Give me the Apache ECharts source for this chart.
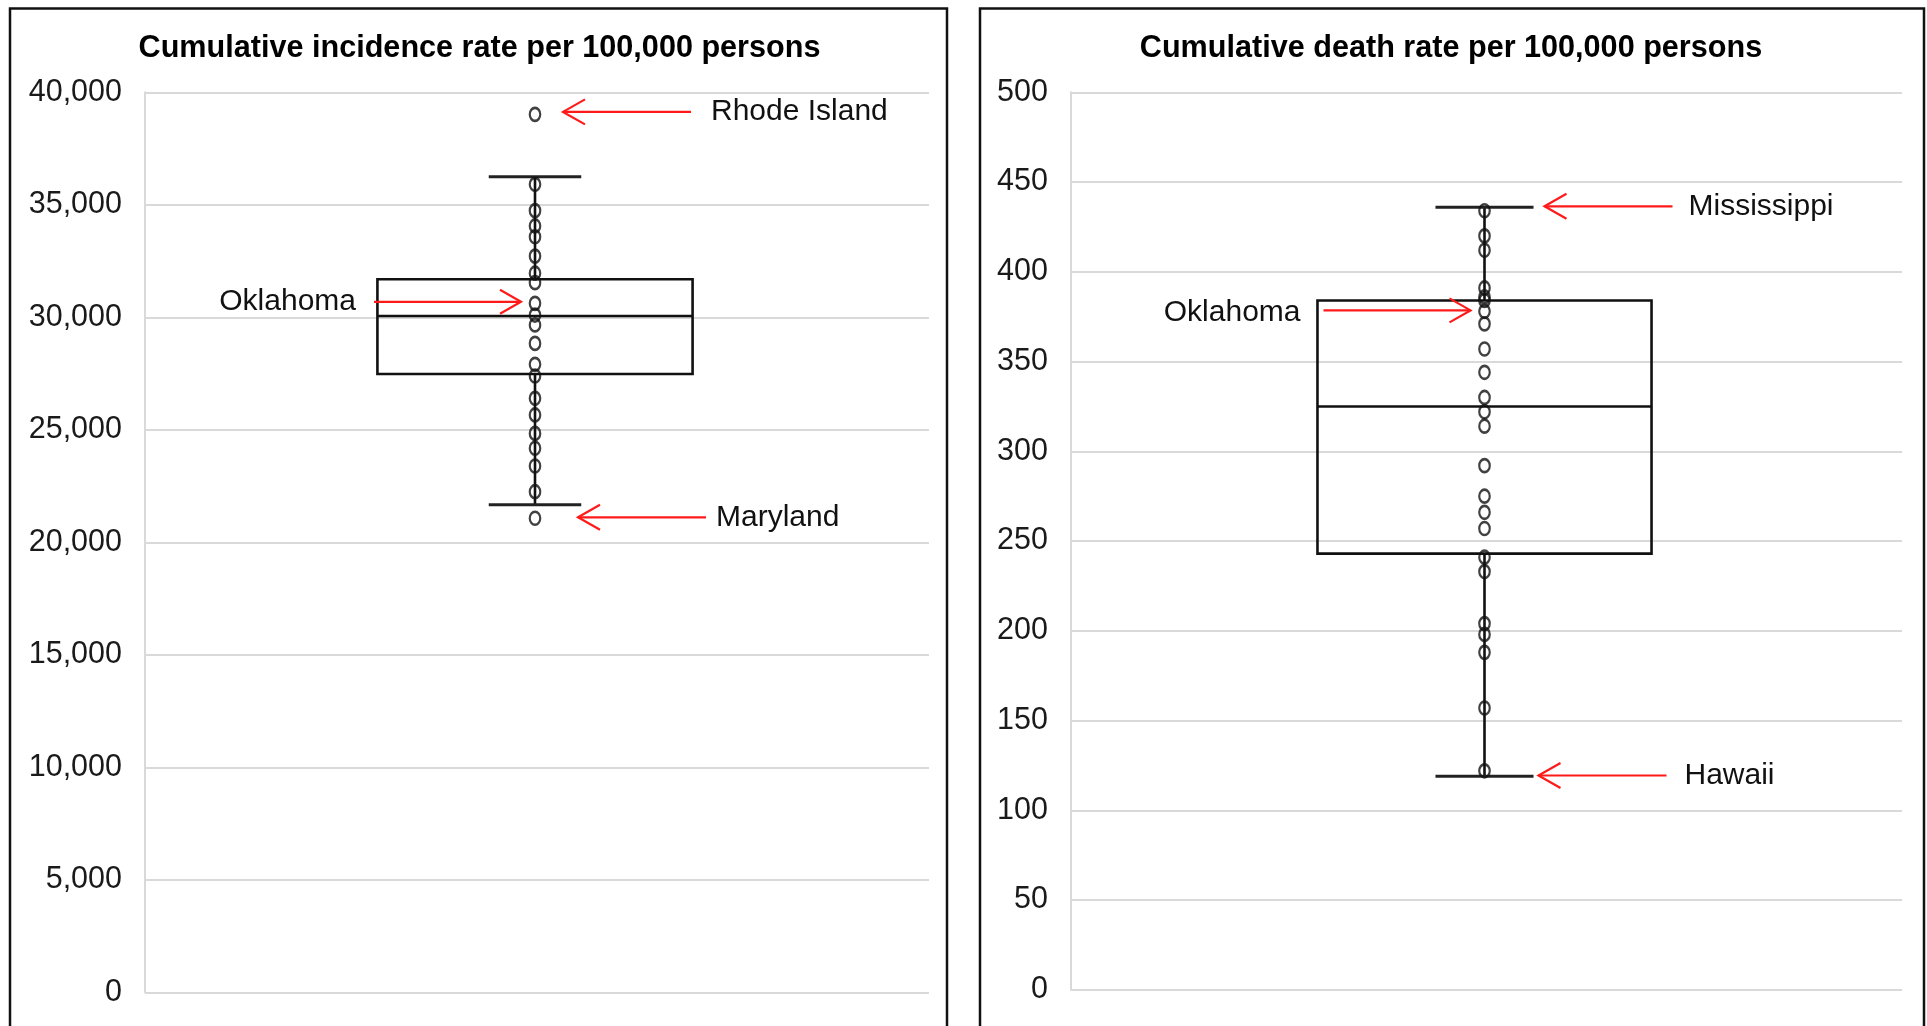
<!DOCTYPE html>
<html>
<head>
<meta charset="utf-8">
<script src="https://cdn.jsdelivr.net/npm/echarts@6/dist/echarts.min.js"></script>
<style>
html,body{margin:0;padding:0;background:#fff;}
#chart{width:1927px;height:1026px;}
</style>
</head>
<body>
<div id="chart"></div>
<script>
// ---- data ----
const titles = ['Cumulative incidence rate per 100,000 persons', 'Cumulative death rate per 100,000 persons'];
const categories = [''];
// box stats: [min whisker, Q1, median, Q3, max whisker]
const incidenceBox = [21670, 27480, 30060, 31690, 36250];
const deathBox = [119, 243, 325, 384, 436];
// individual state values (points)
const incidencePoints = [39020, 35910, 34740, 34060, 33580, 32720, 31960, 31540, 30620, 30100, 29660, 28840, 27910, 27390, 26400, 25660, 24840, 24180, 23390, 22250, 21070];
const deathPoints = [434, 420, 412, 391, 386, 384, 378, 371, 357, 344, 330, 322, 314, 292, 275, 266, 257, 241, 233, 204, 198, 188, 157, 122];
// axes: [min, max, interval]
const incidenceAxis = [0, 40000, 5000];
const deathAxis = [0, 500, 50];
// annotations: [label, value, side]
const incidenceNotes = [['Rhode Island', 39130, 'right'], ['Oklahoma', 30690, 'left'], ['Maryland', 21110, 'right']];
const deathNotes = [['Mississippi', 436.5, 'right'], ['Oklahoma', 378.5, 'left'], ['Hawaii', 119.4, 'right']];

const FONT = '"Liberation Sans", Arial, sans-serif';
const chart = echarts.init(document.getElementById('chart'), null, {renderer: 'canvas'});

function renderBox(params, api) {
  const x = api.value(0);
  const lo = api.coord([x, api.value(1)]);
  const q1 = api.coord([x, api.value(2)]);
  const med = api.coord([x, api.value(3)]);
  const q3 = api.coord([x, api.value(4)]);
  const hi = api.coord([x, api.value(5)]);
  const band = api.size([1, 0])[0];
  const bw = band * 0.402, cw = band * 0.118;
  const cx = q1[0] - 2;
  const st = {stroke: '#111', lineWidth: 2.6, fill: null};
  return {
    type: 'group',
    children: [
      {type: 'rect', shape: {x: cx - bw / 2, y: q3[1], width: bw, height: q1[1] - q3[1]}, style: {stroke: '#111', lineWidth: 2.6, fill: 'none'}},
      {type: 'line', shape: {x1: cx - bw / 2, y1: med[1], x2: cx + bw / 2, y2: med[1]}, style: st},
      {type: 'line', shape: {x1: cx, y1: hi[1], x2: cx, y2: q3[1]}, style: st},
      {type: 'line', shape: {x1: cx, y1: q1[1], x2: cx, y2: lo[1]}, style: st},
      {type: 'line', shape: {x1: cx - cw / 2, y1: hi[1], x2: cx + cw / 2, y2: hi[1]}, style: {stroke: '#222', lineWidth: 3}},
      {type: 'line', shape: {x1: cx - cw / 2, y1: lo[1], x2: cx + cw / 2, y2: lo[1]}, style: {stroke: '#222', lineWidth: 3}}
    ]
  };
}

function yAxis(idx, ax, withComma) {
  return {
    type: 'value', gridIndex: idx, min: ax[0], max: ax[1], interval: ax[2],
    axisLine: {show: true, lineStyle: {color: '#d9d9d9', width: 2}},
    axisTick: {show: false},
    splitLine: {show: true, lineStyle: {color: '#d9d9d9', width: 2}},
    axisLabel: {
      fontFamily: FONT, fontSize: 30.5, color: '#1a1a1a', margin: 23,
      formatter: v => withComma ? v.toLocaleString('en-US') : String(v)
    }
  };
}
function xAxis(idx) {
  return {
    type: 'category', gridIndex: idx, data: categories,
    axisLine: {show: false}, axisTick: {show: false}, axisLabel: {show: false}, splitLine: {show: false}
  };
}
const ellipse = 'path://M0,-6A5,6 0 1 1 0,6A5,6 0 1 1 0,-6Z';
function pointsSeries(idx, vals) {
  return {
    type: 'scatter', xAxisIndex: idx, yAxisIndex: idx, z: 5,
    symbol: ellipse, symbolSize: [10.5, 13], symbolKeepAspect: false,
    symbolOffset: [-2, 0],
    itemStyle: {color: 'rgba(0,0,0,0)', borderColor: '#111', borderWidth: 2.4},
    data: vals.map(v => [0, v]), silent: true
  };
}
function boxSeries(idx, b) {
  return {
    type: 'custom', xAxisIndex: idx, yAxisIndex: idx, z: 3, clip: false,
    renderItem: renderBox, encode: {x: 0, y: [1, 2, 3, 4, 5]},
    data: [[0].concat(b)], silent: true
  };
}

const titleStyle = {fontFamily: FONT, fontWeight: 'bold', fontSize: 30.6, color: '#000'};
chart.setOption({
  animation: false,
  backgroundColor: '#fff',
  title: [
    {text: titles[0], left: 474.5, top: 28, textAlign: 'center', textStyle: titleStyle},
    {text: titles[1], left: 1446, top: 28, textAlign: 'center', textStyle: titleStyle}
  ],
  grid: [
    {left: 145, top: 92.3, width: 784, height: 900, containLabel: false},
    {left: 1071, top: 92.3, width: 831, height: 897.5, containLabel: false}
  ],
  xAxis: [xAxis(0), xAxis(1)],
  yAxis: [yAxis(0, incidenceAxis, true), yAxis(1, deathAxis, false)],
  series: [
    boxSeries(0, incidenceBox), pointsSeries(0, incidencePoints),
    boxSeries(1, deathBox), pointsSeries(1, deathPoints)
  ]
});

// annotations placed through the axes' scales
const tipOffsets = {'Rhode Island': 28, 'Maryland': 43, 'Mississippi': 60, 'Hawaii': 54};
const textGaps = {'Rhode Island': 20, 'Maryland': 10, 'Mississippi': 16, 'Hawaii': 18};
function notes(idx, list) {
  const out = [];
  const RED = '#ff1a1a';
  list.forEach(([label, val, side]) => {
    const p = chart.convertToPixel({xAxisIndex: idx, yAxisIndex: idx}, [0, val]);
    const cx = p[0] - 2, y = p[1];
    if (side === 'right') {
      const tip = cx + tipOffsets[label];
      const tail = tip + 128;
      out.push({type: 'line', shape: {x1: tip, y1: y, x2: tail, y2: y}, style: {stroke: RED, lineWidth: 2.2}, z: 10});
      out.push({type: 'polyline', shape: {points: [[tip + 22, y - 12.5], [tip, y], [tip + 22, y + 12.5]]}, style: {stroke: RED, lineWidth: 2.2, fill: null}, z: 10});
      out.push({type: 'text', x: tail + textGaps[label], y: y, style: {text: label, fontFamily: FONT, fontSize: 30, fill: '#111', textVerticalAlign: 'middle', textAlign: 'left'}, z: 10});
    } else {
      const tip = cx - 14;
      const tail = tip - 147;
      out.push({type: 'line', shape: {x1: tail, y1: y, x2: tip, y2: y}, style: {stroke: RED, lineWidth: 2.2}, z: 10});
      out.push({type: 'polyline', shape: {points: [[tip - 21, y - 12], [tip, y], [tip - 21, y + 12]]}, style: {stroke: RED, lineWidth: 2.2, fill: null}, z: 10});
      out.push({type: 'text', x: tail - (idx === 0 ? 18 : 23), y: y + (idx === 0 ? 0 : 2), style: {text: label, fontFamily: FONT, fontSize: 30, fill: '#111', textVerticalAlign: 'middle', textAlign: 'right'}, z: 10});
    }
  });
  return out;
}
const frames = [
  {type: 'rect', shape: {x: 10, y: 8.5, width: 937, height: 1040}, style: {stroke: '#111', lineWidth: 2.5, fill: null}, z: 20, silent: true},
  {type: 'rect', shape: {x: 980, y: 8.5, width: 944, height: 1040}, style: {stroke: '#111', lineWidth: 2.5, fill: null}, z: 20, silent: true}
];
chart.setOption({graphic: frames.concat(notes(0, incidenceNotes), notes(1, deathNotes))});
</script>
</body>
</html>
